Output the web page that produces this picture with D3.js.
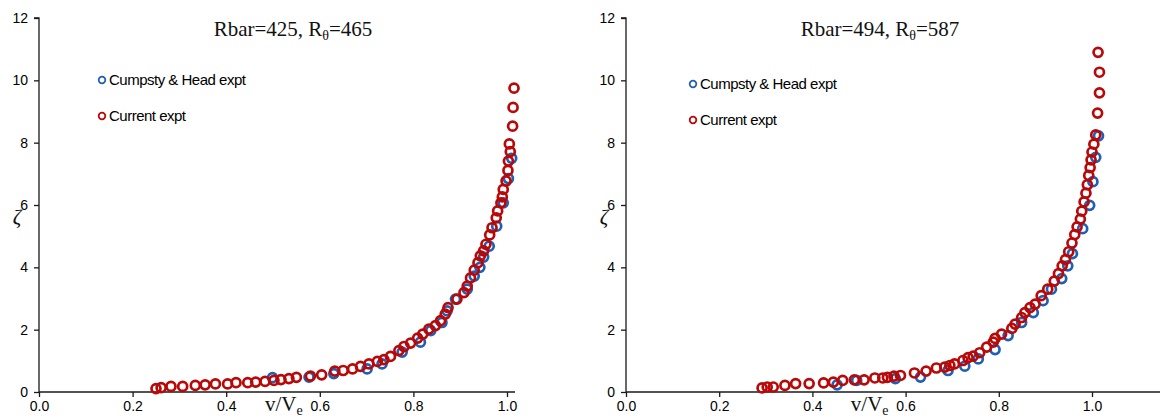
<!DOCTYPE html>
<html>
<head>
<meta charset="utf-8">
<script src="https://cdn.jsdelivr.net/npm/d3@7.9.0/dist/d3.min.js"></script>
<style>
  body { margin: 0; background: #fff; }
  svg { display: block; }
</style>
</head>
<body>
<div id="vis"></div>
<script>
// ---- data ----
const xTicks = [0.0, 0.2, 0.4, 0.6, 0.8, 1.0];
const yTicks = [0, 2, 4, 6, 8, 10, 12];
const seriesNames = ['Cumpsty & Head expt', 'Current expt'];

// panel 1: Rbar=425, Rtheta=465   [v/Ve, zeta]
const leftBlue = [
  [0.499,0.46],[0.577,0.48],[0.630,0.59],[0.701,0.74],[0.733,0.90],[0.776,1.28],
  [0.815,1.60],[0.837,1.97],[0.861,2.23],[0.872,2.60],[0.890,2.98],[0.915,3.30],
  [0.930,3.72],[0.942,4.00],[0.950,4.33],[0.962,4.68],[0.978,5.32],[0.992,6.07],
  [1.003,6.85],[1.010,7.50]
];
const leftRed = [
  [0.250,0.11],[0.261,0.14],[0.282,0.18],[0.307,0.18],[0.334,0.21],[0.355,0.23],
  [0.377,0.26],[0.403,0.26],[0.421,0.30],[0.446,0.30],[0.463,0.32],[0.483,0.34],
  [0.502,0.37],[0.517,0.40],[0.534,0.43],[0.550,0.47],[0.580,0.51],[0.604,0.55],
  [0.632,0.67],[0.650,0.69],[0.670,0.74],[0.687,0.82],[0.705,0.90],[0.723,0.98],
  [0.737,1.04],[0.751,1.14],[0.769,1.33],[0.780,1.46],[0.794,1.57],[0.809,1.73],
  [0.820,1.86],[0.833,2.02],[0.847,2.13],[0.858,2.29],[0.868,2.50],[0.874,2.71],
  [0.893,2.98],[0.908,3.19],[0.915,3.40],[0.922,3.66],[0.930,3.91],[0.938,4.15],
  [0.943,4.37],[0.950,4.53],[0.955,4.74],[0.963,5.04],[0.968,5.27],[0.977,5.59],
  [0.980,5.81],[0.987,6.07],[0.990,6.26],[0.992,6.50],[0.998,6.77],[1.002,7.11],
  [1.003,7.41],[1.007,7.71],[1.005,7.96],[1.012,8.53],[1.013,9.13],[1.015,9.75]
];

// panel 2: Rbar=494, Rtheta=587
const rightBlue = [
  [0.453,0.23],[0.495,0.37],[0.578,0.43],[0.632,0.48],[0.691,0.69],[0.727,0.83],
  [0.756,1.06],[0.792,1.36],[0.820,1.81],[0.849,2.23],[0.874,2.55],[0.895,2.93],
  [0.913,3.30],[0.935,3.64],[0.948,4.05],[0.958,4.44],[0.980,5.24],[0.995,5.99],
  [1.002,6.75],[1.008,7.53],[1.014,8.22]
];
const rightRed = [
  [0.292,0.13],[0.303,0.16],[0.316,0.16],[0.341,0.21],[0.364,0.27],[0.393,0.27],
  [0.424,0.29],[0.445,0.32],[0.465,0.37],[0.490,0.39],[0.511,0.39],[0.534,0.45],
  [0.551,0.45],[0.561,0.47],[0.575,0.51],[0.589,0.53],[0.619,0.61],[0.644,0.67],
  [0.666,0.77],[0.684,0.80],[0.695,0.85],[0.705,0.90],[0.723,1.01],[0.734,1.10],
  [0.745,1.15],[0.759,1.26],[0.774,1.44],[0.788,1.60],[0.792,1.72],[0.806,1.86],
  [0.828,2.04],[0.835,2.18],[0.849,2.39],[0.856,2.55],[0.867,2.71],[0.878,2.82],
  [0.891,3.09],[0.905,3.30],[0.919,3.56],[0.928,3.80],[0.936,4.05],[0.943,4.25],
  [0.950,4.50],[0.957,4.78],[0.963,5.05],[0.968,5.30],[0.975,5.55],[0.978,5.80],
  [0.983,6.10],[0.987,6.38],[0.990,6.65],[0.993,6.95],[0.996,7.20],[0.998,7.45],
  [1.000,7.70],[1.004,7.95],[1.008,8.25],[1.012,8.95],[1.016,9.60],[1.016,10.26],
  [1.013,10.90]
];

const BLUE = '#1f5fb5', RED = '#b80808';

const W = 1164, H = 419;
const svg = d3.select('#vis').append('svg')
    .attr('width', W).attr('height', H);

function panel(cfg) {
  const g = svg.append('g');
  const x = d3.scaleLinear().domain([0, 1]).range([cfg.x0, cfg.x1]);
  const y = d3.scaleLinear().domain([0, 12]).range([392, 18]);

  // axes
  const yAxis = d3.axisLeft(y).tickValues(yTicks).tickSize(5).tickPadding(6)
    .tickFormat(d3.format('d'));
  const xAxis = d3.axisBottom(x).tickValues(xTicks).tickSize(5).tickPadding(4)
    .tickFormat(d3.format('.1f'));

  const gy = g.append('g').attr('transform', `translate(${cfg.x0},0)`).call(yAxis);
  const gx = g.append('g').attr('transform', 'translate(0,392)').call(xAxis);
  gy.select('.domain').attr('d', `M-5,18H0V392`);
  gx.select('.domain').attr('d', `M${cfg.x0},0H${cfg.xEnd}`);
  [gy, gx].forEach(a => {
    a.selectAll('.domain, .tick line').attr('stroke', '#1a1a1a').attr('stroke-width', 1.3);
    a.selectAll('text').attr('fill', '#000')
      .style('font-family', '"Liberation Sans", Arial, sans-serif')
      .style('font-size', '14px');
  });

  // markers: blue under red
  g.append('g').selectAll('circle').data(cfg.blue).join('circle')
    .attr('cx', d => x(d[0])).attr('cy', d => y(d[1])).attr('r', 4.5)
    .attr('fill', 'none').attr('stroke', BLUE).attr('stroke-width', 2.7);
  g.append('g').selectAll('circle').data(cfg.red).join('circle')
    .attr('cx', d => x(d[0])).attr('cy', d => y(d[1])).attr('r', 4.5)
    .attr('fill', 'none').attr('stroke', RED).attr('stroke-width', 2.7);

  // title
  const t = g.append('text').attr('x', cfg.titleX).attr('y', 36)
    .attr('text-anchor', 'middle')
    .style('font-family', '"Liberation Serif", "Times New Roman", serif')
    .style('font-size', '21px').attr('fill', '#111');
  t.append('tspan').text(`Rbar=${cfg.rbar}, R`);
  t.append('tspan').attr('dy', 4).style('font-size', '14px').text('θ');
  t.append('tspan').attr('dy', -4).text(`=${cfg.rth}`);

  // axis labels
  const xl = g.append('text').attr('x', cfg.x0 + (cfg.x1 - cfg.x0) * 0.523).attr('y', 411)
    .attr('text-anchor', 'middle')
    .style('font-family', '"Liberation Serif", "Times New Roman", serif')
    .style('font-size', '21px').attr('fill', '#111');
  xl.append('tspan').text('v/V');
  xl.append('tspan').attr('dy', 4).style('font-size', '14px').text('e');

  g.append('text').attr('x', cfg.x0 - 22).attr('y', 224)
    .attr('text-anchor', 'middle')
    .style('font-family', '"Liberation Serif", "Times New Roman", serif')
    .style('font-style', 'italic')
    .style('font-size', '21px').attr('fill', '#111').text('ζ');

  // legend
  const lg = g.append('g').attr('transform', `translate(${cfg.legX},${cfg.legY})`);
  [BLUE, RED].forEach((c, i) => {
    lg.append('circle').attr('cx', 0).attr('cy', i * 36).attr('r', 3.3)
      .attr('fill', 'none').attr('stroke', c).attr('stroke-width', 1.8);
    lg.append('text').attr('x', 7).attr('y', i * 36 + 5)
      .style('font-family', '"Liberation Sans", Arial, sans-serif')
      .style('font-size', '15px').style('letter-spacing', '-0.5px')
      .attr('fill', '#000').text(seriesNames[i]);
  });
}

panel({x0: 39, x1: 507, xEnd: 515, blue: leftBlue, red: leftRed,
       rbar: 425, rth: 465, titleX: 293, legX: 102, legY: 80});
panel({x0: 626, x1: 1092, xEnd: 1160, blue: rightBlue, red: rightRed,
       rbar: 494, rth: 587, titleX: 880, legX: 693, legY: 84});
</script>
</body>
</html>
